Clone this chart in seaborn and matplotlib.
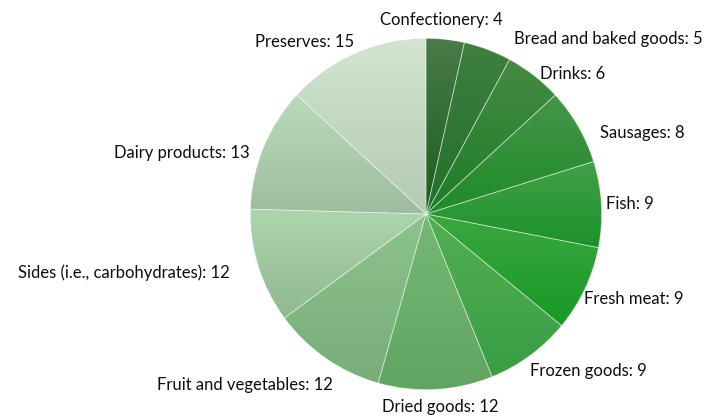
import numpy as np
import matplotlib
matplotlib.use("Agg")
import matplotlib.pyplot as plt
import matplotlib.colors as mcolors
import seaborn as sns

categories = ["Confectionery", "Bread and baked goods", "Drinks", "Sausages", "Fish",
              "Fresh meat", "Frozen goods", "Dried goods", "Fruit and vegetables",
              "Sides (i.e., carbohydrates)", "Dairy products", "Preserves"]
values = [4, 5, 6, 8, 9, 9, 9, 12, 12, 12, 13, 15]

# gradient colours (top, bottom) per slice
top_colors = ["#487c48", "#3f7f40", "#448b45", "#46964a", "#46a048", "#3ba73f",
              "#52b052", "#76b976", "#8dc48d", "#add5ad", "#b9dab9", "#d1e5d1"]
bottom_colors = ["#1c5c20", "#22702a", "#1f7c27", "#1e8b27", "#1a9229", "#169a26",
                 "#3a9d44", "#5fa561", "#77ad79", "#8fb990", "#9ebd9e", "#b3cab3"]

# label anchor positions in figure pixels (x, y from top) and alignment
label_pos = [(441, 20, "center"), (514, 39, "left"), (540, 74, "left"), (600, 133, "left"),
             (606, 204, "left"), (584, 299, "left"), (530, 371, "left"), (440, 407, "center"),
             (333, 385, "right"), (230, 273, "right"), (250, 153, "right"), (354, 42, "right")]

sns.set_theme(style="white")
plt.rcParams["font.family"] = ["Lato", "DejaVu Sans"]

W, H = 707, 416
fig = plt.figure(figsize=(W / 100, H / 100), dpi=100)
cx, cy, r = 426, 214, 176.5
ax = fig.add_axes([(cx - r) / W, (H - cy - r) / H, 2 * r / W, 2 * r / H])

wedges, _ = ax.pie(values, startangle=90, counterclock=False, radius=1,
                   colors=top_colors,
                   wedgeprops=dict(edgecolor=(1, 1, 1, 0.4), linewidth=0.6))

for w, ct, cb in zip(wedges, top_colors, bottom_colors):
    bb = w.get_path().get_extents()
    t = np.linspace(0, 1, 256)[:, None]
    c0 = np.array(mcolors.to_rgb(ct))
    c1 = np.array(mcolors.to_rgb(cb))
    img = (c0[None, None, :] * (1 - t[..., None]) + c1[None, None, :] * t[..., None])
    im = ax.imshow(img, extent=(bb.x0, bb.x1, bb.y0, bb.y1), origin="upper",
                   aspect="auto", interpolation="bilinear", zorder=1)
    im.set_clip_path(w)
    w.set_facecolor("none")
    w.set_zorder(3)

ax.set_xlim(-1.005, 1.005)
ax.set_ylim(-1.005, 1.005)
ax.set_aspect("auto")
ax.axis("off")

for cat, val, (x, y, ha) in zip(categories, values, label_pos):
    fig.text(x / W, 1 - y / H, f"{cat}: {val}", ha=ha, va="center",
             fontsize=12, color="#0d0d0d")

fig.savefig("out.png", dpi=100, facecolor="white")
